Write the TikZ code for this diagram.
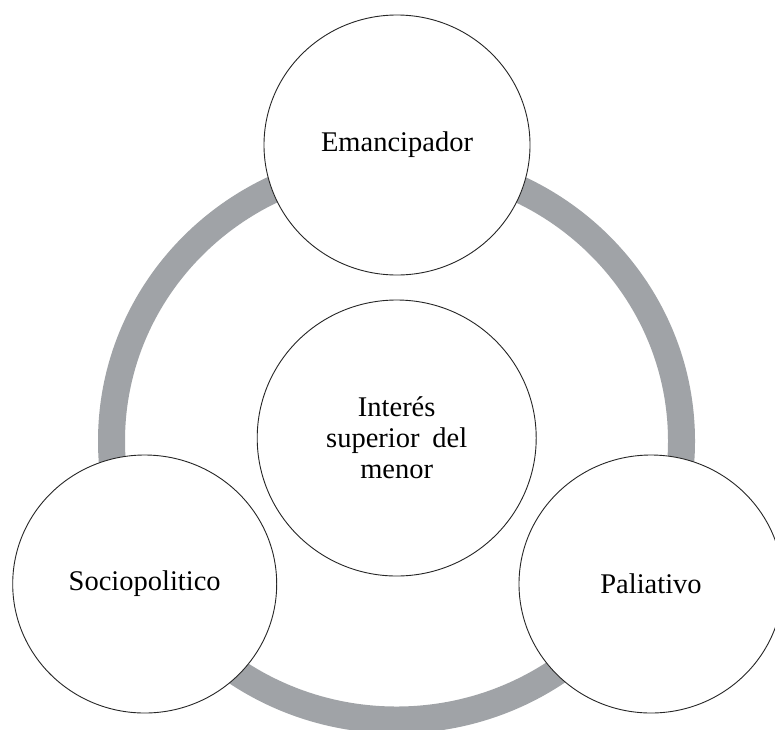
\documentclass[tikz,border=0pt]{standalone}
\usepackage{fontspec}
\setmainfont{Liberation Serif}
\usetikzlibrary{shapes.geometric}
\definecolor{ringgray}{RGB}{160,163,167}
\begin{document}
\begin{tikzpicture}[x=1pt,y=-1pt,
  bubble/.style={ellipse, draw=black!85, line width=0.9pt, fill=white, inner sep=0pt,
    align=center, font=\fontsize{28.5}{31}\selectfont},
  ring/.style={draw=ringgray, line width=27pt}]
\useasboundingbox (0,0) rectangle (775,729);
\clip (0,0) rectangle (775,729);
\fill[white] (0,0) rectangle (775,729);
\coordinate (ringc) at (396.5,441);
\draw[ring] (ringc) ellipse [x radius=285, y radius=279];
\node[bubble, minimum width=266pt, minimum height=260pt] (eman) at (397,145) {\raisebox{-2pt}{Emancipador}};
\node[bubble, minimum width=279pt, minimum height=276pt] (inter) at (396.7,438) {Interés\\superior\hspace{0.45em}del\\menor};
\node[bubble, minimum width=264pt, minimum height=258pt] (socio) at (144.7,584) {\raisebox{-2pt}{Sociopolitico}};
\node[bubble, minimum width=264pt, minimum height=258pt] (palia) at (651,584) {\raisebox{-2pt}{Paliativo}};
\end{tikzpicture}
\end{document}
